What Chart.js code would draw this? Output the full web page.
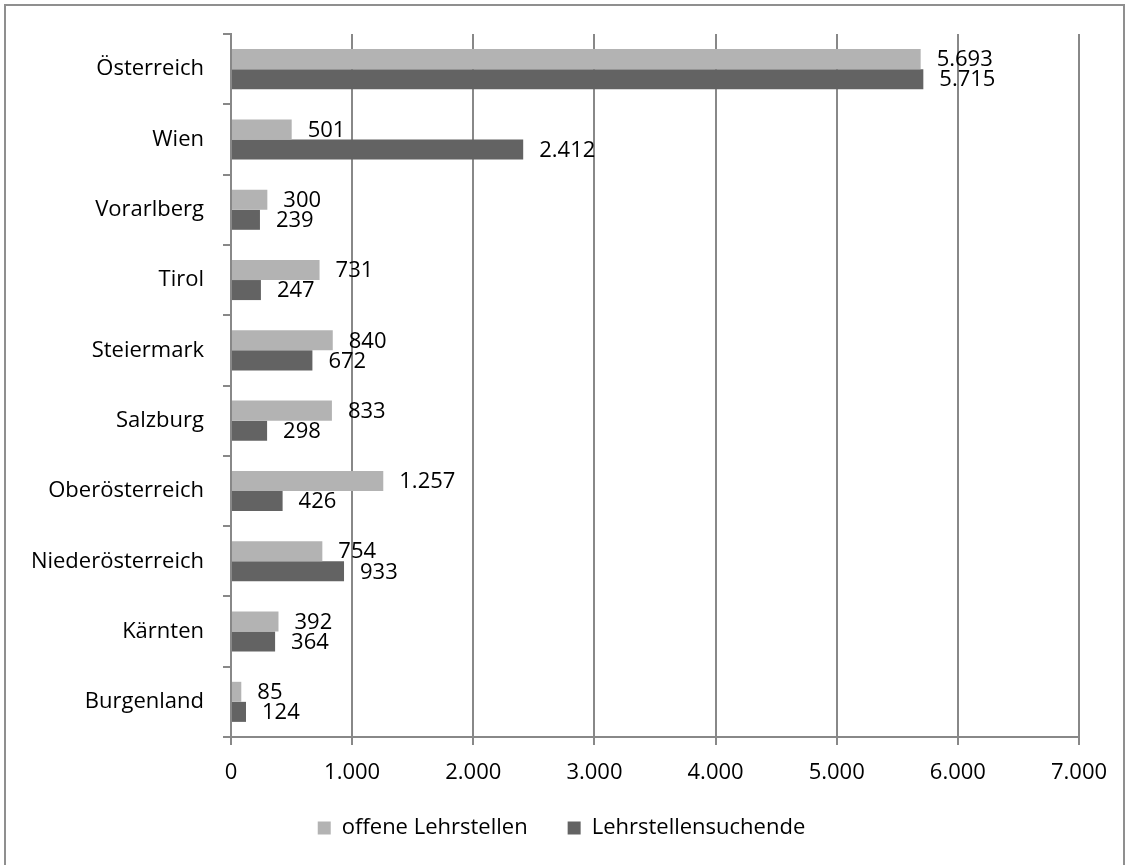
<!DOCTYPE html>
<html lang="de">
<head>
<meta charset="utf-8">
<title>Lehrstellen nach Bundesland</title>
<script src="https://cdn.jsdelivr.net/npm/chart.js@4/dist/chart.umd.min.js"></script>
<style>
  html, body { margin: 0; padding: 0; background: #fff; }
  #wrap { width: 1133px; height: 865px; position: relative; }
</style>
</head>
<body>
<div id="wrap"><canvas id="lehrChart"></canvas></div>
<script>
// Bundesländer, von oben nach unten
const regions = ['Österreich', 'Wien', 'Vorarlberg', 'Tirol', 'Steiermark', 'Salzburg',
                 'Oberösterreich', 'Niederösterreich', 'Kärnten', 'Burgenland'];
const offeneLehrstellen = [5693, 501, 300, 731, 840, 833, 1257, 754, 392, 85];
const lehrstellensuchende = [5715, 2412, 239, 247, 672, 298, 426, 933, 364, 124];
const xTicks = [0, 1000, 2000, 3000, 4000, 5000, 6000, 7000];

const FONT = '"Open Sans", "Noto Sans", sans-serif';
const AXIS_GRAY = '#888888';

// 1234 -> "1.234"
function fmt(v) {
    return String(Math.round(v)).replace(/\B(?=(\d{3})+(?!\d))/g, '.');
}

// white background + thin outer frame
const frame = {
    id: 'frame',
    afterLayout(chart) {
        // legend centred under the whole canvas, a bit closer to the axis
        const lg = chart.legend;
        if (lg) {
            const h = lg.bottom - lg.top;
            lg.left += 22;
            lg.right += 22;
            lg.top = 777;
            lg.bottom = 777 + h;
        }
    },
    beforeDraw(chart) {
        const ctx = chart.ctx;
        ctx.save();
        ctx.fillStyle = '#fff';
        ctx.fillRect(0, 0, chart.width, chart.height);
        ctx.strokeStyle = '#8f8f8f';
        ctx.lineWidth = 2;
        ctx.strokeRect(5, 5, 1119, 880);
        ctx.restore();
    }
};

const valueLabels = {
    id: 'valueLabels',
    afterDatasetsDraw(chart) {
        const ctx = chart.ctx;
        ctx.save();
        ctx.font = '22px ' + FONT;
        ctx.fillStyle = '#000';
        ctx.textAlign = 'left';
        ctx.textBaseline = 'middle';
        chart.data.datasets.forEach((ds, i) => {
            chart.getDatasetMeta(i).data.forEach((bar, j) => {
                ctx.fillText(fmt(ds.data[j]), bar.x + 16, bar.y + 1);
            });
        });
        ctx.restore();
    }
};

const ctx = document.getElementById('lehrChart').getContext('2d');
new Chart(ctx, {
    type: 'bar',
    data: {
        labels: regions,
        datasets: [
            { label: 'offene Lehrstellen', data: offeneLehrstellen, backgroundColor: '#b3b3b3',
              categoryPercentage: 0.57, barPercentage: 1 },
            { label: 'Lehrstellensuchende', data: lehrstellensuchende, backgroundColor: '#636363',
              categoryPercentage: 0.57, barPercentage: 1 }
        ]
    },
    options: {
        indexAxis: 'y',
        responsive: true,
        maintainAspectRatio: false,
        animation: false,
        layout: { padding: { left: 0, top: 34, right: 54, bottom: 6 } },
        plugins: {
            tooltip: { enabled: false },
            legend: {
                position: 'bottom',
                labels: {
                    boxWidth: 13, boxHeight: 13, padding: 40,
                    color: '#000', font: { family: FONT, size: 22 }
                }
            }
        },
        scales: {
            x: {
                min: 0, max: 7000,
                afterBuildTicks(scale) { scale.ticks = xTicks.map(v => ({ value: v })); },
                afterFit(scale) { scale.height = 50; },
                grid: { color: AXIS_GRAY, lineWidth: 2, tickLength: 8 },
                border: { color: AXIS_GRAY, width: 2 },
                ticks: { color: '#000', padding: 15, font: { family: FONT, size: 22 },
                         maxRotation: 0, callback: v => fmt(v) }
            },
            y: {
                afterFit(scale) { scale.width = 231; },
                grid: { drawOnChartArea: false, color: AXIS_GRAY, lineWidth: 2, tickLength: 8, offset: true },
                border: { color: AXIS_GRAY, width: 2 },
                ticks: { color: '#000', padding: 19, font: { family: FONT, size: 22 } }
            }
        }
    },
    plugins: [frame, valueLabels]
});
</script>
</body>
</html>
